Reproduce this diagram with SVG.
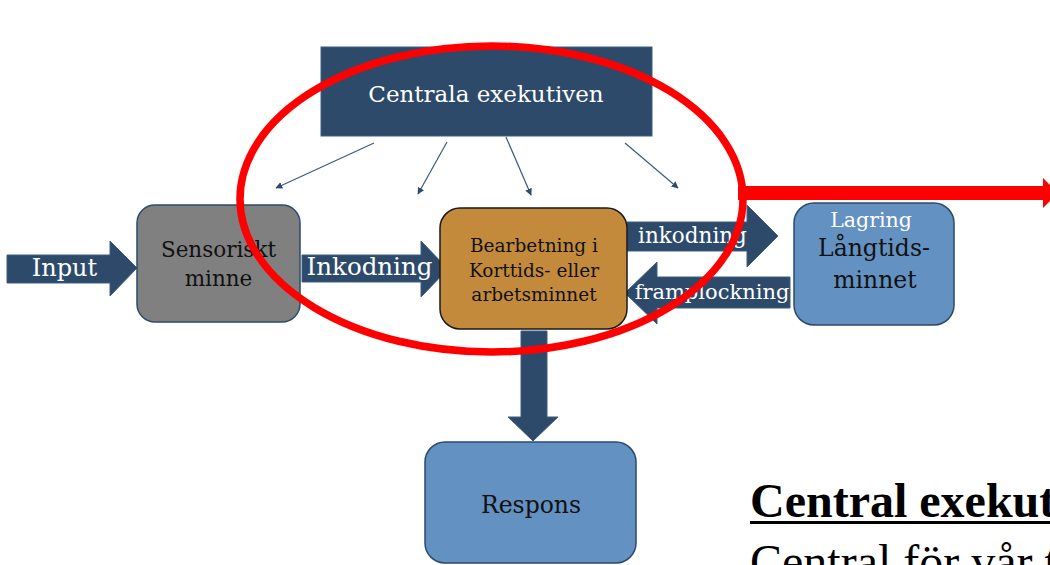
<svg xmlns="http://www.w3.org/2000/svg" width="1050" height="565" viewBox="0 0 1050 565">
  <defs>
    <marker id="tip" viewBox="0 0 10 10" refX="9" refY="5" markerWidth="7" markerHeight="7" orient="auto" markerUnits="userSpaceOnUse">
      <path d="M0,0 L10,5 L0,10 z" fill="#2d4a6b"/>
    </marker>
    <style>
      .lbl { font-family: "DejaVu Serif", Georgia, serif; text-anchor: middle; }
      .w { fill: #ffffff; }
      .k { fill: #111111; }
      .navy { fill: #2d4a6b; }
      .block { fill: #2d4a6b; stroke: #3f5d80; stroke-width: 1; }
      .thin { stroke: #3d5a7e; stroke-width: 1.2; fill: none; marker-end: url(#tip); }
      .ring { fill: none; stroke: #ff0000; stroke-width: 7.5; }
    </style>
  </defs>
  <rect width="1050" height="565" fill="#ffffff"/>

  <!-- block arrows and control links -->
  <g id="connectors">
    <polygon class="block" points="7,255 110,255 110,241 137,268 110,296 110,283 7,283"/>
    <text class="lbl w" x="64.5" y="276" font-size="24">Input</text>

    <polygon class="block" points="302,255 421,255 421,241 448,269 421,297 421,282 302,282"/>
    <text class="lbl w" x="369.5" y="275" font-size="24.5">Inkodning</text>

    <polygon class="block" points="627,222 747,222 747,205 778,236 747,267 747,251 627,251"/>
    <text class="lbl w" x="692.5" y="243" font-size="21.5">inkodning</text>

    <polygon class="block" points="790,277 657,277 657,262 625,293 657,324 657,308 790,308"/>
    <text class="lbl w" x="712" y="299" font-size="21">framplockning</text>

    <polygon class="block" points="521,331 547,331 547,417 558,417 533,441 508,417 521,417"/>

    <line class="thin" x1="374" y1="143" x2="276" y2="188"/>
    <line class="thin" x1="447" y1="142" x2="418" y2="194"/>
    <line class="thin" x1="506" y1="137" x2="531" y2="195"/>
    <line class="thin" x1="625" y1="143" x2="678" y2="188"/>
  </g>

  <g id="central-executive">
    <rect x="321" y="47" width="331" height="89" class="navy" stroke="#3f5d80" stroke-width="1"/>
    <text class="lbl w" x="486" y="102" font-size="23">Centrala exekutiven</text>
  </g>

  <g id="sensory-memory">
    <rect x="137" y="205" width="163" height="117" rx="18" fill="#808080" stroke="#2d4a6b" stroke-width="1.5"/>
    <text class="lbl k" x="218.5" y="257" font-size="21.5">Sensoriskt</text>
    <text class="lbl k" x="218.5" y="286" font-size="21.5">minne</text>
  </g>

  <g id="working-memory">
    <rect x="440" y="208" width="187" height="121" rx="20" fill="#c48a3b" stroke="#1a1a1a" stroke-width="1.5"/>
    <text class="lbl k" x="534" y="252" font-size="18.5">Bearbetning i</text>
    <text class="lbl k" x="534" y="277" font-size="18.5">Korttids- eller</text>
    <text class="lbl k" x="534" y="301" font-size="18.5">arbetsminnet</text>
  </g>

  <g id="long-term-memory">
    <rect x="794" y="203" width="160" height="122" rx="20" fill="#6391c2" stroke="#2d4a6b" stroke-width="1.5"/>
    <text class="lbl w" x="871" y="227" font-size="20.5">Lagring</text>
    <text class="lbl k" x="874" y="256" font-size="23.5">Långtids-</text>
    <text class="lbl k" x="875" y="288" font-size="23.5">minnet</text>
  </g>

  <g id="response">
    <rect x="425" y="442" width="211" height="121" rx="20" fill="#6391c2" stroke="#2d4a6b" stroke-width="1.5"/>
    <text class="lbl k" x="531" y="513" font-size="23.5">Respons</text>
  </g>

  <!-- red highlight ring and pointer -->
  <g id="highlight">
    <ellipse class="ring" cx="491.5" cy="199" rx="251.5" ry="153"/>
    <rect x="738" y="186" width="306" height="14" fill="#ff0000"/>
    <polygon points="1043,178 1058,193 1043,208" fill="#ff0000"/>
  </g>

  <g id="caption" font-family="'Liberation Serif', 'Times New Roman', serif" font-size="48" fill="#000000">
    <text x="750" y="517" font-weight="bold">Central exekut</text>
    <rect x="750" y="521" width="300" height="3" fill="#000000"/>
    <text x="750" y="578">Central för vår t</text>
  </g>
</svg>
